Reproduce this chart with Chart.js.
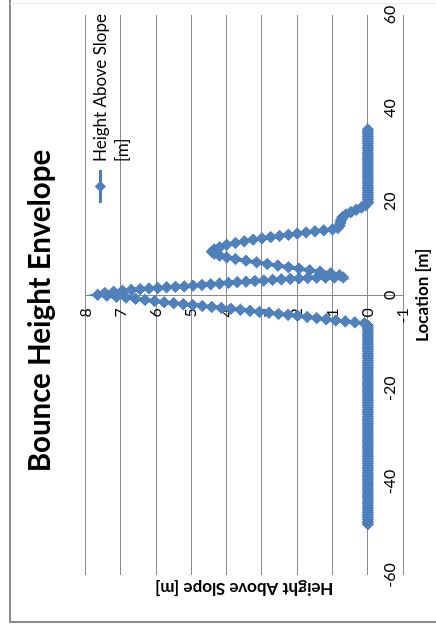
<!DOCTYPE html>
<html>
<head>
<meta charset="utf-8">
<title>Bounce Height Envelope</title>
<script src="https://cdn.jsdelivr.net/npm/chart.js@4/dist/chart.umd.min.js"></script>
<style>
  html, body { margin: 0; padding: 0; background: #ffffff; overflow: hidden; }
  body { width: 436px; height: 633px; position: relative; }
  /* the chart is laid out landscape and turned a quarter turn counter-clockwise */
  #frame {
    position: absolute; left: 0; top: 633px;
    width: 633px; height: 436px;
    transform-origin: 0 0;
    transform: rotate(-90deg);
  }
  canvas { display: block; }
</style>
</head>
<body>
<div id="frame"><canvas id="chart" width="633" height="436"></canvas></div>
<script>
const chartTitle = 'Bounce Height Envelope';
const seriesLabel = 'Height Above Slope [m]';
const xAxisTitle = 'Location [m]';
const yAxisTitle = 'Height Above Slope [m]';

const locationTicks = [-60, -40, -20, 0, 20, 40, 60];
const heightTicks = [-1, 0, 1, 2, 3, 4, 5, 6, 7, 8];

// run-out on the slope before the first bounce
const approachLocation = [
  -49, -48.5, -48, -47.5, -47, -46.5, -46, -45.5, -45, -44.5,
  -44, -43.5, -43, -42.5, -42, -41.5, -41, -40.5, -40, -39.5,
  -39, -38.5, -38, -37.5, -37, -36.5, -36, -35.5, -35, -34.5,
  -34, -33.5, -33, -32.5, -32, -31.5, -31, -30.5, -30, -29.5,
  -29, -28.5, -28, -27.5, -27, -26.5, -26, -25.5, -25, -24.5,
  -24, -23.5, -23, -22.5, -22, -21.5, -21, -20.5, -20, -19.5,
  -19, -18.5, -18, -17.5, -17, -16.5, -16, -15.5, -15, -14.5,
  -14, -13.5, -13, -12.5, -12, -11.5, -11, -10.5, -10, -9.5,
  -9, -8.5, -8, -7.5, -7, -6.5
];
const approachHeight = [
  0, 0, 0, 0, 0, 0, 0, 0, 0, 0,
  0, 0, 0, 0, 0, 0, 0, 0, 0, 0,
  0, 0, 0, 0, 0, 0, 0, 0, 0, 0,
  0, 0, 0, 0, 0, 0, 0, 0, 0, 0,
  0, 0, 0, 0, 0, 0, 0, 0, 0, 0,
  0, 0, 0, 0, 0, 0, 0, 0, 0, 0,
  0, 0, 0, 0, 0, 0, 0, 0, 0, 0,
  0, 0, 0, 0, 0, 0, 0, 0, 0, 0,
  0, 0, 0, 0, 0, 0
];

// envelope of the bounces: up to the main peak, back down, second hump, small hop
const flightLocation = [
  // rise to the main peak
  -6.0, -5.8, -5.6, -5.4, -5.15, -4.9, -4.65, -4.4, -4.2, -4.0,
  -3.75, -3.55, -3.35, -3.1, -2.9, -2.7, -2.5, -2.3, -2.1, -1.9,
  -1.7, -1.5, -1.25, -1.0, -0.75, -0.5, -0.3, -0.1, 0.1,
  // back down to the first touch-down
  0.45, 0.75, 0.95, 1.15, 1.3, 1.45, 1.55, 1.7, 1.8, 1.9,
  2.05, 2.2, 2.35, 2.5, 2.65, 2.8, 2.9, 3.05, 3.15, 3.3,
  3.4, 3.5, 3.6, 3.7, 3.75, 3.8, 3.8, 3.8,
  // second hump
  4.3, 4.7, 5.05, 5.35, 5.7, 6.0, 6.35, 6.7, 7.05, 7.4,
  7.75, 8.1, 8.5, 8.9, 9.35,
  9.8, 10.25, 10.8, 11.2, 11.55, 11.9, 12.2, 12.45, 12.7, 12.95,
  13.2, 13.45, 13.7, 13.9, 14.1,
  // small hop onto the run-out
  14.4, 14.9, 15.5, 16.1, 16.7,
  17.3, 17.8, 18.3, 18.8, 19.3, 19.8
];
const flightHeight = [
  0.1, 0.37, 0.64, 0.91, 1.18, 1.45, 1.72, 1.99, 2.26, 2.53,
  2.8, 3.07, 3.34, 3.61, 3.88, 4.15, 4.42, 4.69, 4.96, 5.23,
  5.5, 5.77, 6.04, 6.31, 6.58, 6.85, 7.12, 7.39, 7.65,
  7.45, 7.2, 6.95, 6.7, 6.45, 6.2, 5.95, 5.7, 5.45, 5.2,
  4.95, 4.7, 4.45, 4.2, 3.95, 3.7, 3.45, 3.2, 2.95, 2.7,
  2.45, 2.2, 1.95, 1.7, 1.45, 1.2, 0.95, 0.7,
  0.8, 1.05, 1.35, 1.65, 1.95, 2.25, 2.55, 2.85, 3.15, 3.45,
  3.75, 4.0, 4.2, 4.35, 4.42,
  4.35, 4.2, 4.0, 3.75, 3.5, 3.25, 3.0, 2.75, 2.5, 2.25,
  2.0, 1.75, 1.5, 1.25, 1.0,
  0.85, 0.8, 0.78, 0.76, 0.72,
  0.62, 0.48, 0.33, 0.18, 0.06, 0
];

// rolling out after the last bounce
const runoutLocation = [
  20, 20.5, 21, 21.5, 22, 22.5, 23, 23.5, 24, 24.5,
  25, 25.5, 26, 26.5, 27, 27.5, 28, 28.5, 29, 29.5,
  30, 30.5, 31, 31.5, 32, 32.5, 33, 33.5, 34, 34.5,
  35, 35.5
];
const runoutHeight = [
  0, 0, 0, 0, 0, 0, 0, 0, 0, 0,
  0, 0, 0, 0, 0, 0, 0, 0, 0, 0,
  0, 0, 0, 0, 0, 0, 0, 0, 0, 0,
  0, 0
];

const seriesColor = '#4a7ebb';
const markerFill = '#4f81bd';
const gridColor = '#8a8a8a';
const fontFamily = 'Lato, "Open Sans", sans-serif';

function toPoints(xs, ys) {
  return xs.map((x, i) => ({ x: x, y: ys[i] }));
}
const points = [].concat(
  toPoints(approachLocation, approachHeight),
  toPoints(flightLocation, flightHeight),
  toPoints(runoutLocation, runoutHeight)
);

// white sheet with the grey chart frame (top and left edges visible)
const sheetFrame = {
  id: 'sheetFrame',
  beforeDraw(chart) {
    const ctx = chart.ctx;
    ctx.save();
    ctx.fillStyle = '#ffffff';
    ctx.fillRect(0, 0, chart.width, chart.height);
    ctx.strokeStyle = '#8c8c8c';
    ctx.lineWidth = 2;
    ctx.beginPath();
    ctx.moveTo(11, chart.height);
    ctx.lineTo(11, 10);
    ctx.lineTo(chart.width, 10);
    ctx.stroke();
    ctx.strokeStyle = '#ececec';
    ctx.lineWidth = 1;
    ctx.beginPath();
    ctx.moveTo(629.5, 10);
    ctx.lineTo(629.5, chart.height);
    ctx.stroke();
    ctx.restore();
  }
};

// legend drawn inside the plot, upper right, label wrapped onto two lines
const insetLegend = {
  id: 'insetLegend',
  afterDraw(chart, args, opts) {
    const ctx = chart.ctx;
    const ds = chart.data.datasets[0];
    const area = chart.chartArea;
    const left = area.right - opts.offsetRight;
    const top = area.top + opts.offsetTop;
    ctx.save();
    // line sample
    ctx.strokeStyle = ds.borderColor;
    ctx.lineWidth = opts.sampleLineWidth;
    ctx.beginPath();
    ctx.moveTo(left, top);
    ctx.lineTo(left + opts.sampleWidth, top);
    ctx.stroke();
    // diamond marker
    const cx = left + opts.sampleWidth / 2, r = opts.markerRadius;
    ctx.fillStyle = ds.pointBackgroundColor;
    ctx.beginPath();
    ctx.moveTo(cx, top - r);
    ctx.lineTo(cx + r, top);
    ctx.lineTo(cx, top + r);
    ctx.lineTo(cx - r, top);
    ctx.closePath();
    ctx.fill();
    // label text
    ctx.font = opts.fontSize + 'px ' + fontFamily;
    ctx.fillStyle = '#000000';
    ctx.textBaseline = 'middle';
    ctx.textAlign = 'left';
    const words = ds.label.split(' ');
    const lines = [];
    let line = '';
    words.forEach(w => {
      const trial = line ? line + ' ' + w : w;
      if (line && ctx.measureText(trial).width > opts.maxTextWidth) {
        lines.push(line);
        line = w;
      } else {
        line = trial;
      }
    });
    if (line) lines.push(line);
    const tx = left + opts.sampleWidth + opts.gap;
    lines.forEach((l, i) => ctx.fillText(l, tx, top + i * opts.lineHeight));
    ctx.restore();
  }
};

new Chart(document.getElementById('chart'), {
  type: 'scatter',
  data: {
    datasets: [{
      label: seriesLabel,
      data: points,
      showLine: true,
      borderColor: seriesColor,
      backgroundColor: markerFill,
      borderWidth: 4,
      pointStyle: 'rectRot',
      pointRadius: 5.7,
      pointBackgroundColor: markerFill,
      pointBorderColor: seriesColor,
      pointBorderWidth: 1,
      tension: 0
    }]
  },
  options: {
    responsive: false,
    animation: false,
    devicePixelRatio: 1,
    events: [],
    layout: { padding: { left: 26, right: 15, top: 0, bottom: 0 } },
    plugins: {
      legend: { display: false },
      tooltip: { enabled: false },
      title: {
        display: true,
        text: chartTitle,
        color: '#000000',
        font: { family: fontFamily, size: 29.5, weight: 'bold' },
        padding: { top: 23, bottom: 27 }
      },
      insetLegend: {
        offsetRight: 188, offsetTop: 15, sampleWidth: 33, gap: 8, sampleLineWidth: 3,
        fontSize: 17, lineHeight: 22, maxTextWidth: 150, markerRadius: 5.7
      }
    },
    scales: {
      x: {
        type: 'linear',
        position: 'bottom',
        min: -60,
        max: 60,
        afterBuildTicks: s => { s.ticks = locationTicks.map(v => ({ value: v })); },
        border: { display: false },
        grid: {
          drawTicks: false,
          lineWidth: 1,
          color: c => (c.tick && c.tick.value === 0 ? gridColor : 'rgba(0,0,0,0)')
        },
        ticks: {
          mirror: true,
          padding: 3.4,
          autoSkip: false,
          maxRotation: 0,
          color: '#000000',
          font: { family: fontFamily, size: 16 }
        },
        title: {
          display: true,
          text: xAxisTitle,
          color: '#000000',
          font: { family: fontFamily, size: 17, weight: 'bold' },
          padding: { top: 2, bottom: 3.6 }
        }
      },
      y: {
        type: 'linear',
        position: 'left',
        min: -1,
        max: 8,
        afterBuildTicks: s => { s.ticks = heightTicks.map(v => ({ value: v })); },
        border: { display: false },
        grid: { drawTicks: false, lineWidth: 1, color: gridColor },
        ticks: { display: false },
        title: {
          display: true,
          text: yAxisTitle,
          color: '#000000',
          font: { family: fontFamily, size: 17, weight: 'bold' },
          padding: { top: 8.6, bottom: 2.5 }
        }
      },
      yLabels: {
        type: 'linear',
        axis: 'y',
        position: { x: -2.8 },
        min: -1,
        max: 8,
        afterBuildTicks: s => { s.ticks = heightTicks.map(v => ({ value: v })); },
        border: { display: false },
        grid: { display: false, drawTicks: false },
        ticks: {
          padding: 0,
          color: '#000000',
          font: { family: fontFamily, size: 16 }
        }
      }
    }
  },
  plugins: [sheetFrame, insetLegend]
});
</script>
</body>
</html>
